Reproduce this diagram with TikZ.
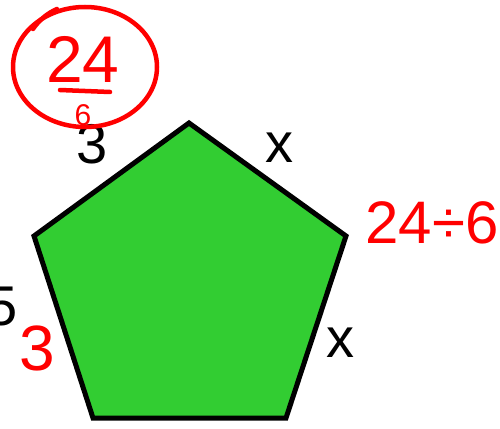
\documentclass[tikz,border=0pt]{standalone}
\usepackage{fontspec}
\usetikzlibrary{calc}
\setmainfont{Liberation Sans}
\definecolor{pgreen}{RGB}{50,205,50}
\definecolor{pred}{RGB}{255,0,0}
\tikzset{
  lbl/.style={inner sep=0pt, anchor=base, font=\fontsize{56}{60}\selectfont},
  rlbl/.style={inner sep=0pt, anchor=base, text=pred, font=\fontsize{60}{64}\selectfont},
  ink/.style={draw=pred, line width=4.5pt, line cap=round, line join=round}
}
\begin{document}
\begin{tikzpicture}[x=1pt,y=-1pt]
\clip (0,0) rectangle (500,428);
\useasboundingbox (0,0) rectangle (500,428);
% pentagon
\coordinate (t) at (189,123);
\coordinate (r) at (346,236);
\coordinate (br) at (286,418);
\coordinate (bl) at (93,418);
\coordinate (l) at (34,236);
\draw[fill=pgreen, line width=5pt, line join=miter] (t) -- (r) -- (br) -- (bl) -- (l) -- cycle;
% black labels
\node[lbl] (s1) at (92,163) {3};
\node[lbl] (s2) at (279,162) {x};
\node[lbl] (s3) at (340,357) {x};
\node[lbl] (s4) at (2,325) {5};
% red annotations
\node[rlbl, font=\fontsize{64}{68}\selectfont] (r3) at (37,370) {3};
\node[rlbl] (r24d6) at (432,243) {24÷6};
\node[rlbl, font=\fontsize{66}{70}\selectfont] (n24) at (83,82) {24};
\node[rlbl, font=\fontsize{30}{34}\selectfont] (d6) at (83,125) {6};
\draw[ink] ($(n24.base)+(-23,8)$) -- ($(n24.base)+(27,10)$);
\draw[ink] (85,67) ellipse [x radius=72, y radius=60];
\draw[ink] (33,29) .. controls (40,19) and (48,13) .. (57,9);
\end{tikzpicture}
\end{document}
